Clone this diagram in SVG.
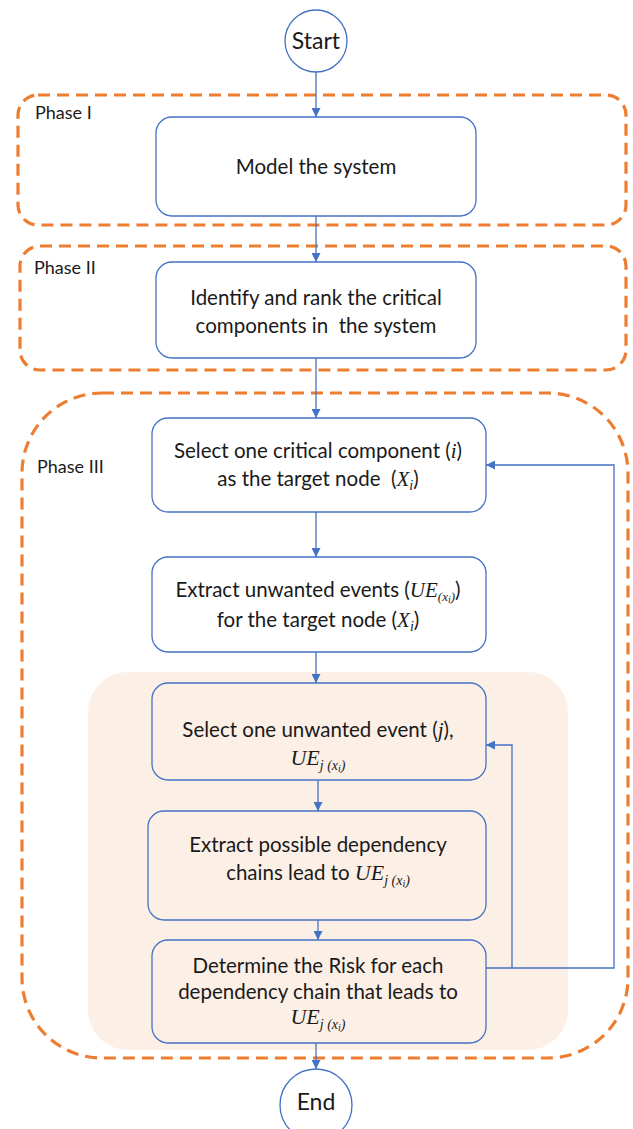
<svg xmlns="http://www.w3.org/2000/svg" width="633" height="1129" viewBox="0 0 633 1129">
<defs>
<style>
.ph{fill:none;stroke:#ED7D31;stroke-width:3.2;stroke-dasharray:12 7}
.nd{fill:#fff;stroke:#4472C4;stroke-width:1.3}
.ndp{fill:#FCEFE6;stroke:#4472C4;stroke-width:1.3}
.t{font-family:Lato,"Liberation Sans",sans-serif;font-size:20.5px;fill:#1a1a1a;text-anchor:middle;white-space:pre}
.pl{font-family:Lato,"Liberation Sans",sans-serif;font-size:18px;fill:#1a1a1a}
.m{font-family:"Liberation Serif",serif;font-style:italic}
.c{fill:none;stroke:#4472C4;stroke-width:1.3}
</style>
<marker id="ar" viewBox="0 0 10 10" refX="10" refY="5" markerWidth="9" markerHeight="9" orient="auto" markerUnits="userSpaceOnUse"><path d="M0,0 L10,5 L0,10 z" fill="#4472C4"/></marker>
</defs>
<rect width="633" height="1129" fill="#fff"/>
<g id="phase1"><rect class="ph" x="18" y="95" width="608" height="130" rx="20"/><text class="pl" x="35" y="119">Phase I</text></g>
<g id="phase2"><rect class="ph" x="20" y="246" width="606" height="124" rx="20"/><text class="pl" x="34" y="274">Phase II</text></g>
<g id="phase3"><rect class="ph" x="22" y="393" width="606" height="665" rx="80"/><text class="pl" x="37" y="473">Phase III</text></g>
<rect id="loop-area" x="88" y="672" width="480" height="378" rx="40" fill="#FCEFE6"/>
<g id="start"><circle class="nd" cx="316" cy="41" r="31"/><text class="t" x="316" y="49" style="font-size:23px">Start</text></g>
<g id="model"><rect class="nd" x="156" y="117" width="320" height="99" rx="16"/><text class="t" x="316" y="174">Model the system</text></g>
<g id="identify"><rect class="nd" x="156" y="262" width="320" height="96" rx="16"/><text class="t" x="316" y="305">Identify and rank the critical</text><text class="t" x="316" y="333">components in  the system</text></g>
<g id="select-comp"><rect class="nd" x="152" y="418" width="334" height="94" rx="16"/>
<text class="t" x="318" y="458">Select one critical component (<tspan class="m" style="font-size:21px">i</tspan>)</text>
<text class="t" x="318" y="486">as the target node  (<tspan class="m" style="font-size:21px">X</tspan><tspan class="m" dy="4" style="font-size:14px">i</tspan><tspan dy="-4">)</tspan></text></g>
<g id="extract-ue"><rect class="nd" x="152" y="557" width="334" height="95" rx="16"/>
<text class="t" x="318" y="597">Extract unwanted events (<tspan class="m" style="font-size:21px">UE</tspan><tspan class="m" dy="4" style="font-size:13px">(x</tspan><tspan class="m" dy="2" style="font-size:10px">i</tspan><tspan class="m" dy="-2" style="font-size:13px">)</tspan><tspan dy="-4">)</tspan></text>
<text class="t" x="318" y="627">for the target node (<tspan class="m" style="font-size:21px">X</tspan><tspan class="m" dy="4" style="font-size:14px">i</tspan><tspan dy="-4">)</tspan></text></g>
<g id="select-ue"><rect class="ndp" x="152" y="683" width="334" height="97" rx="16"/>
<text class="t" x="318" y="737">Select one unwanted event (<tspan class="m" style="font-size:21px">j</tspan>),</text>
<text class="t" x="318" y="765"><tspan class="m" style="font-size:22px">UE</tspan><tspan class="m" dy="5" style="font-size:14px">j (x</tspan><tspan class="m" dy="2" style="font-size:10px">i</tspan><tspan class="m" dy="-2" style="font-size:14px">)</tspan></text></g>
<g id="extract-chains"><rect class="ndp" x="148" y="811" width="338" height="109" rx="16"/>
<text class="t" x="318" y="852">Extract possible dependency</text>
<text class="t" x="318" y="880">chains lead to <tspan class="m" style="font-size:22px">UE</tspan><tspan class="m" dy="5" style="font-size:14px">j (x</tspan><tspan class="m" dy="2" style="font-size:10px">i</tspan><tspan class="m" dy="-2" style="font-size:14px">)</tspan></text></g>
<g id="determine"><rect class="ndp" x="152" y="940" width="334" height="103" rx="16"/>
<text class="t" x="318" y="973">Determine the Risk for each</text>
<text class="t" x="318" y="999">dependency chain that leads to</text>
<text class="t" x="318" y="1024"><tspan class="m" style="font-size:22px">UE</tspan><tspan class="m" dy="5" style="font-size:14px">j (x</tspan><tspan class="m" dy="2" style="font-size:10px">i</tspan><tspan class="m" dy="-2" style="font-size:14px">)</tspan></text></g>
<g id="end"><circle class="nd" cx="316" cy="1105" r="36"/><text class="t" x="316" y="1110" style="font-size:23px">End</text></g>
<g id="connectors">
<line class="c" x1="316" y1="72" x2="316" y2="117" marker-end="url(#ar)"/>
<line class="c" x1="316" y1="216" x2="316" y2="262" marker-end="url(#ar)"/>
<line class="c" x1="316" y1="358" x2="316" y2="418" marker-end="url(#ar)"/>
<line class="c" x1="316" y1="512" x2="316" y2="557" marker-end="url(#ar)"/>
<line class="c" x1="316" y1="652" x2="316" y2="683" marker-end="url(#ar)"/>
<line class="c" x1="318" y1="780" x2="318" y2="811" marker-end="url(#ar)"/>
<line class="c" x1="318" y1="920" x2="318" y2="940" marker-end="url(#ar)"/>
<line class="c" x1="316" y1="1043" x2="316" y2="1069" marker-end="url(#ar)"/>
<polyline class="c" points="486,968 512,968 512,745 486,745" marker-end="url(#ar)"/>
<polyline class="c" points="512,968 614,968 614,465 486,465" marker-end="url(#ar)"/>
</g>
</svg>
